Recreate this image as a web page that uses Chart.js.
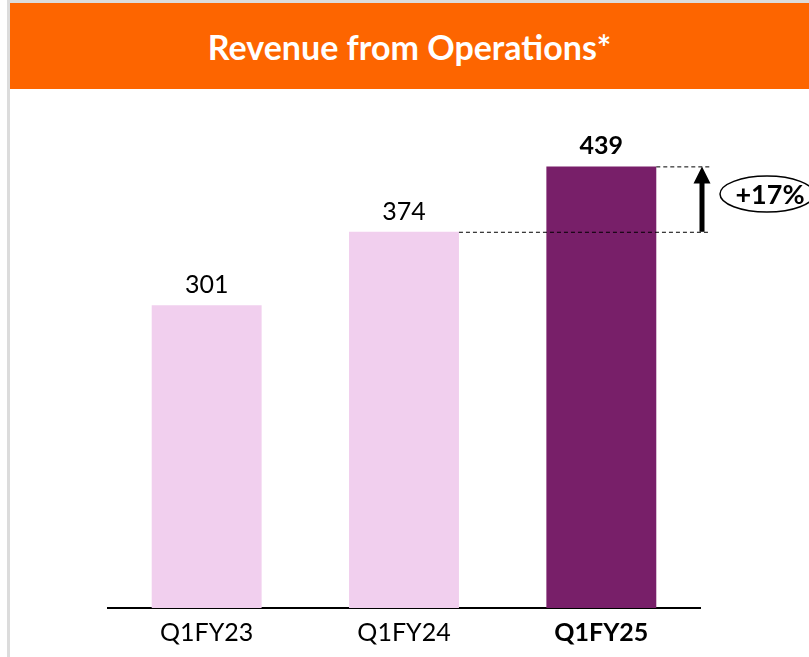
<!DOCTYPE html>
<html>
<head>
<meta charset="utf-8">
<script src="https://cdn.jsdelivr.net/npm/chart.js@4.4.1/dist/chart.umd.min.js"></script>
<style>
  html, body { margin: 0; padding: 0; background: #fff; }
  #wrap { position: relative; width: 809px; height: 657px; overflow: hidden; }
  #edge { position: absolute; left: 7px; top: 0; width: 3px; height: 657px; background: #dcdcdc; }
  #topEdge { position: absolute; left: 7px; top: 0; width: 802px; height: 3px; background: #dcdcdc; }
  #header {
    position: absolute; left: 10px; top: 3px; width: 799px; height: 86px;
    background: #fd6500; color: #fff;
    font-family: Lato, "Open Sans", sans-serif; font-weight: bold; font-size: 34px;
    display: flex; align-items: center; justify-content: center;
  }
  #revenueChart { position: absolute; left: 0; top: 0; }
</style>
</head>
<body>
<div id="wrap">
  <div id="edge"></div>
  <div id="topEdge"></div>
  <div id="header">Revenue from Operations*</div>
  <canvas id="revenueChart" width="809" height="657"></canvas>
</div>
<script>
// Chart data
const quarters = ['Q1FY23', 'Q1FY24', 'Q1FY25'];
const revenue = [301, 374, 439];
const growthLabel = '+17%';

const barColors = ['#f1cfee', '#f1cfee', '#781f69'];
const FONT = 'Lato, "Open Sans", sans-serif';

// Draws value labels above bars and the growth marker on the right
const annotations = {
  id: 'annotations',
  afterDatasetsDraw(chart) {
    const ctx = chart.ctx;
    const bars = chart.getDatasetMeta(0).data;
    const y = chart.scales.y;

    // Value labels
    ctx.save();
    ctx.fillStyle = '#000';
    ctx.textAlign = 'center';
    ctx.textBaseline = 'alphabetic';
    bars.forEach((bar, i) => {
      const last = i === bars.length - 1;
      ctx.font = (last ? 'bold ' : '') + '25px ' + FONT;
      ctx.fillText(String(revenue[i]), bar.x, bar.y - 12);
    });
    ctx.restore();

    // Dashed guides from the last two bars
    const prev = bars[bars.length - 2];
    const curr = bars[bars.length - 1];
    const yPrev = y.getPixelForValue(revenue[revenue.length - 2]);
    const yCurr = y.getPixelForValue(revenue[revenue.length - 1]);
    const guideEnd = 710;
    ctx.save();
    ctx.strokeStyle = '#000';
    ctx.lineWidth = 1;
    ctx.setLineDash([4, 3]);
    ctx.beginPath();
    ctx.moveTo(prev.x + prev.width / 2, yPrev + 0.5);
    ctx.lineTo(guideEnd, yPrev + 0.5);
    ctx.moveTo(curr.x + curr.width / 2, yCurr + 0.5);
    ctx.lineTo(guideEnd, yCurr + 0.5);
    ctx.stroke();
    ctx.restore();

    // Arrow
    const ax = 702;
    ctx.save();
    ctx.fillStyle = '#000';
    ctx.fillRect(ax - 2.5, yCurr + 15, 5, yPrev - yCurr - 15);
    ctx.beginPath();
    ctx.moveTo(ax, yCurr);
    ctx.lineTo(ax - 8.5, yCurr + 17);
    ctx.lineTo(ax + 8.5, yCurr + 17);
    ctx.closePath();
    ctx.fill();
    ctx.restore();

    // Ellipse with growth label
    const cy = (yPrev + yCurr) / 2 - 5;
    ctx.save();
    ctx.strokeStyle = '#000';
    ctx.lineWidth = 1.5;
    ctx.beginPath();
    ctx.ellipse(767, cy, 47, 18, 0, 0, Math.PI * 2);
    ctx.stroke();
    ctx.fillStyle = '#000';
    ctx.font = 'bold 27px ' + FONT;
    ctx.textAlign = 'center';
    ctx.textBaseline = 'middle';
    ctx.fillText(growthLabel, 770, cy + 1);
    ctx.restore();
  }
};

new Chart(document.getElementById('revenueChart'), {
  type: 'bar',
  data: {
    labels: quarters,
    datasets: [{
      data: revenue,
      backgroundColor: barColors,
      borderWidth: 0,
      barPercentage: 0.557,
      categoryPercentage: 1
    }]
  },
  options: {
    responsive: false,
    animation: false,
    layout: {
      padding: { left: 108, right: 109, top: 101, bottom: 0 }
    },
    scales: {
      x: {
        grid: { display: false, drawTicks: false },
        border: { display: true, color: '#000', width: 2 },
        ticks: {
          color: '#000',
          padding: 12,
          font: (c) => ({
            family: FONT,
            size: 25,
            lineHeight: 1,
            weight: c.index === quarters.length - 1 ? 'bold' : 'normal'
          })
        }
      },
      y: {
        display: false,
        min: 0,
        max: 504
      }
    },
    plugins: {
      legend: { display: false },
      tooltip: { enabled: false }
    }
  },
  plugins: [annotations]
});
</script>
</body>
</html>
